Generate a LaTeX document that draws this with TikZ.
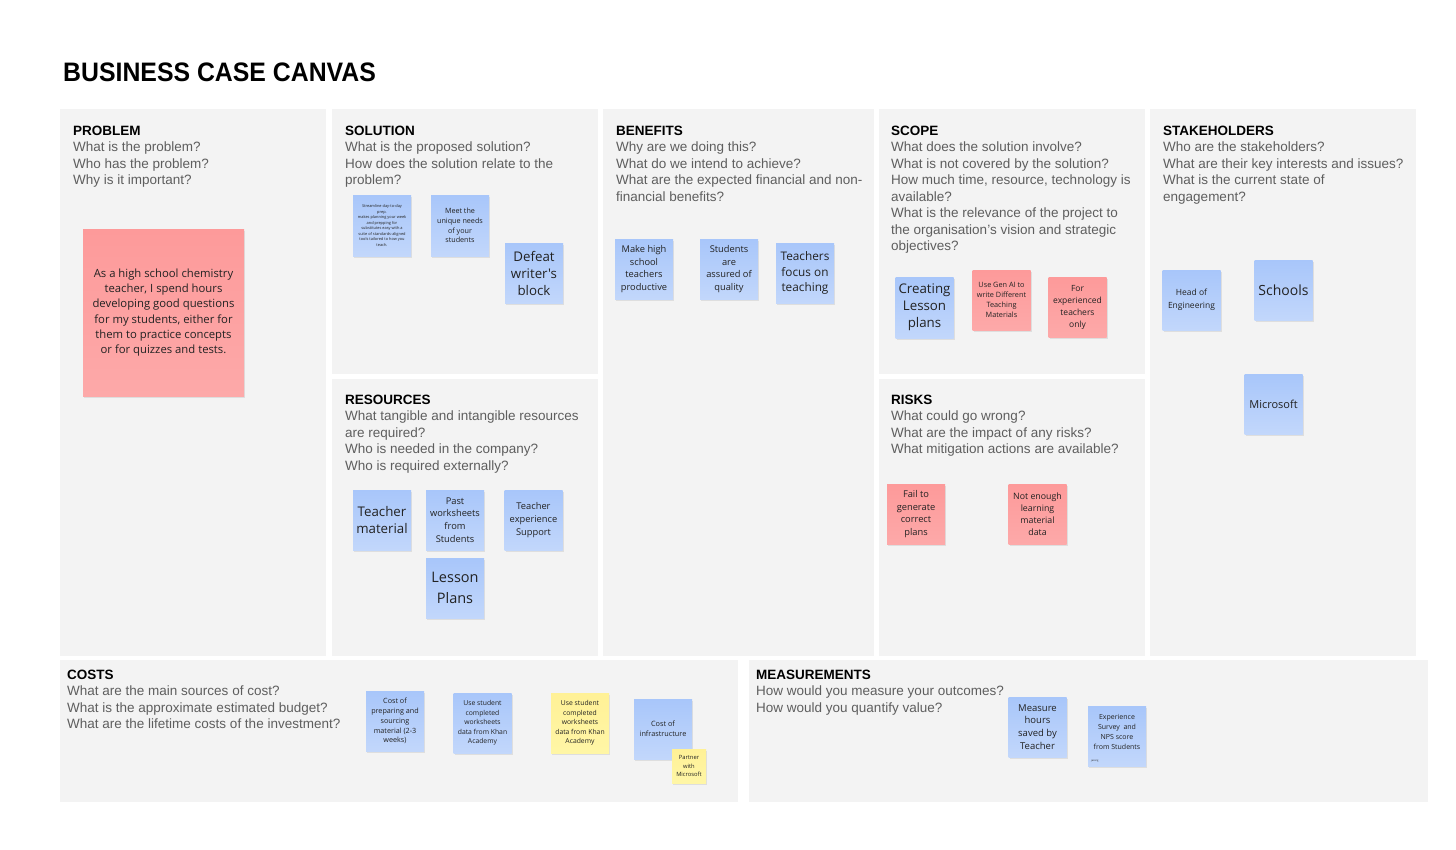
\documentclass[tikz,border=0pt]{standalone}
\usepackage{fontspec}
\setmainfont{Liberation Sans}
\newfontfamily\notefont{Open Sans}
\newfontfamily\titlefont{Liberation Sans}[FakeStretch=0.93]
\usetikzlibrary{shadows}
\definecolor{panel}{HTML}{F3F3F3}
\definecolor{qgray}{HTML}{5E5E5E}
\definecolor{blueA}{HTML}{A8C6FA}
\definecolor{blueB}{HTML}{C2D7FB}
\definecolor{redA}{HTML}{FD9A9A}
\definecolor{redB}{HTML}{FDA9A9}
\definecolor{yelA}{HTML}{FFF196}
\definecolor{yelB}{HTML}{FFF6A6}
\definecolor{ink}{HTML}{222222}
\tikzset{
  fs/.style 2 args={font=\notefont\fontsize{#1}{#2}\selectfont},
  sticky/.style={rectangle, inner sep=1pt, align=center, text=ink,
    minimum width=58pt, minimum height=60pt,
    drop shadow={opacity=0.18, shadow xshift=1pt, shadow yshift=-2pt}},
  bnote/.style={sticky, top color=blueA, bottom color=blueB},
  rnote/.style={sticky, top color=redA, bottom color=redB},
  ynote/.style={sticky, top color=yelA, bottom color=yelB},
  notetext/.style={inner sep=0pt, align=center, text=ink},
  head/.style={anchor=north west, inner sep=0pt, align=left, text=qgray,
    font=\fontsize{13.5}{16.5}\selectfont},
  pnl/.style={fill=panel}
}
\newcommand{\hd}[1]{{\color{black}\bfseries #1}}
\begin{document}
\begin{tikzpicture}[x=1pt,y=-1pt]
\useasboundingbox[fill=white] (0,0) rectangle (1456,849);
% panels
\fill[pnl] (60,109) rectangle (326,656);
\fill[pnl] (332,109) rectangle (598,374);
\fill[pnl] (332,379) rectangle (598,656);
\fill[pnl] (603,109) rectangle (874,656);
\fill[pnl] (879,109) rectangle (1145,374);
\fill[pnl] (879,379) rectangle (1145,656);
\fill[pnl] (1150,109) rectangle (1416,656);
\fill[pnl] (60,660) rectangle (738,802);
\fill[pnl] (749,660) rectangle (1428,802);
% title
\node[anchor=west, inner sep=0pt, font=\titlefont\bfseries\fontsize{26.7}{30}\selectfont] (title) at (63,72.5) {BUSINESS CASE CANVAS};
% headings
\node[head] (hprob) at (73,125.5) {\hd{PROBLEM}\\What is the problem?\\Who has the problem?\\Why is it important?};
\node[head] (hsol) at (345,125.5) {\hd{SOLUTION}\\What is the proposed solution?\\How does the solution relate to the\\problem?};
\node[head] (hben) at (616,125.5) {\hd{BENEFITS}\\Why are we doing this?\\What do we intend to achieve?\\What are the expected financial and non-\\financial benefits?};
\node[head] (hscope) at (891,125.5) {\hd{SCOPE}\\What does the solution involve?\\What is not covered by the solution?\\How much time, resource, technology is\\available?\\What is the relevance of the project to\\the organisation's vision and strategic\\objectives?};
\node[head] (hstake) at (1163,125.5) {\hd{STAKEHOLDERS}\\Who are the stakeholders?\\What are their key interests and issues?\\What is the current state of\\engagement?};
\node[head] (hres) at (345,394.5) {\hd{RESOURCES}\\What tangible and intangible resources\\are required?\\Who is needed in the company?\\Who is required externally?};
\node[head] (hrisk) at (891,394.5) {\hd{RISKS}\\What could go wrong?\\What are the impact of any risks?\\What mitigation actions are available?};
\node[head] (hcost) at (67,669.5) {\hd{COSTS}\\What are the main sources of cost?\\What is the approximate estimated budget?\\What are the lifetime costs of the investment?};
\node[head] (hmeas) at (756,669.5) {\hd{MEASUREMENTS}\\How would you measure your outcomes?\\How would you quantify value?};
% problem
\node[rnote, minimum width=161pt, minimum height=167pt, fs={11.3}{15.3}] (prob) at (163.5,312.5) {As a high school chemistry\\teacher, I spend hours\\developing good questions\\for my students, either for\\them to practice concepts\\or for quizzes and tests.};
% solution
\node[bnote, fs={3.9}{5.5}, minimum height=61pt] (s1) at (382,225.5) {Streamline day-to-day\\prep.\\makes planning your week\\and prepping for\\substitutes easy with a\\suite of standards-aligned\\tools tailored to how you\\teach.};
\node[bnote, fs={7.2}{9.7}, minimum height=61pt] (s2) at (460,225.5) {Meet the\\unique needs\\of your\\students};
\node[bnote, fs={13.3}{17}] (s3) at (534,273) {Defeat\\writer's\\block};
% benefits
\node[bnote, fs={9.3}{12.5}] (b1) at (644,269) {Make high\\school\\teachers\\productive};
\node[bnote, fs={9.3}{12.5}] (b2) at (729,269) {Students\\are\\assured of\\quality};
\node[bnote, fs={11.8}{15.5}] (b3) at (805,273) {Teachers\\focus on\\teaching};
% scope
\node[bnote, fs={13.3}{17}, minimum height=61pt] (c1) at (924.5,307.5) {Creating\\Lesson\\plans};
\node[rnote, fs={7.3}{9.8}] (c2) at (1001.5,300) {Use Gen AI to\\write Different\\Teaching\\Materials};
\node[rnote, fs={8.5}{12}] (c3) at (1077.5,307) {For\\experienced\\teachers\\only};
% stakeholders
\node[bnote, fs={8.5}{12.5}] (k1) at (1191.5,300) {Head of\\Engineering};
\node[bnote, fs={14}{17}] (k2) at (1283.5,290) {Schools};
\node[bnote, fs={11}{14}] (k3) at (1273.5,404) {Microsoft};
% resources
\node[bnote, fs={13.3}{17}] (r1) at (382,520) {Teacher\\material};
\node[bnote, fs={9.3}{12.6}] (r2) at (455,520) {Past\\worksheets\\from\\Students};
\node[bnote, fs={9.3}{12.6}] (r3) at (533.5,520) {Teacher\\experience\\Support};
\node[bnote, fs={14.5}{20.5}] (r4) at (455,588) {Lesson\\Plans};
% risks
\node[rnote, fs={9.3}{12.6}] (f1) at (916,514) {Fail to\\generate\\correct\\plans};
\node[rnote, fs={8.8}{12.2}] (f2) at (1037.5,514) {Not enough\\learning\\material\\data};
% costs
\node[bnote, fs={7.2}{9.9}] (co1) at (395,721) {Cost of\\preparing and\\sourcing\\material (2-3\\weeks)};
\node[bnote, fs={6.8}{9.6}] (co2) at (482.5,723) {Use student\\completed\\worksheets\\data from Khan\\Academy};
\node[ynote, fs={6.8}{9.6}] (co3) at (580,723) {Use student\\completed\\worksheets\\data from Khan\\Academy};
\node[bnote, fs={7.3}{10}] (co4) at (663,729) {Cost of\\infrastructure};
\node[ynote, minimum width=34pt, minimum height=34pt, fs={5.8}{8.8}] (co5) at (689,766) {Partner\\with\\Microsoft};
% measurements
\node[bnote, fs={9.5}{12.8}] (m1) at (1037.5,727) {Measure\\hours\\saved by\\Teacher};
\node[bnote] (m2) at (1117,736) {};
\node[notetext, fs={7}{9.8}] (m2t) at ([yshift=4pt]m2.center) {Experience\\Survey\ \ and\\NPS score\\from Students};
\node[anchor=south west, inner sep=0pt, text=ink, font=\notefont\fontsize{2.5}{3}\selectfont] (m2tag) at (1091,762) {jacsng};
\end{tikzpicture}
\end{document}
